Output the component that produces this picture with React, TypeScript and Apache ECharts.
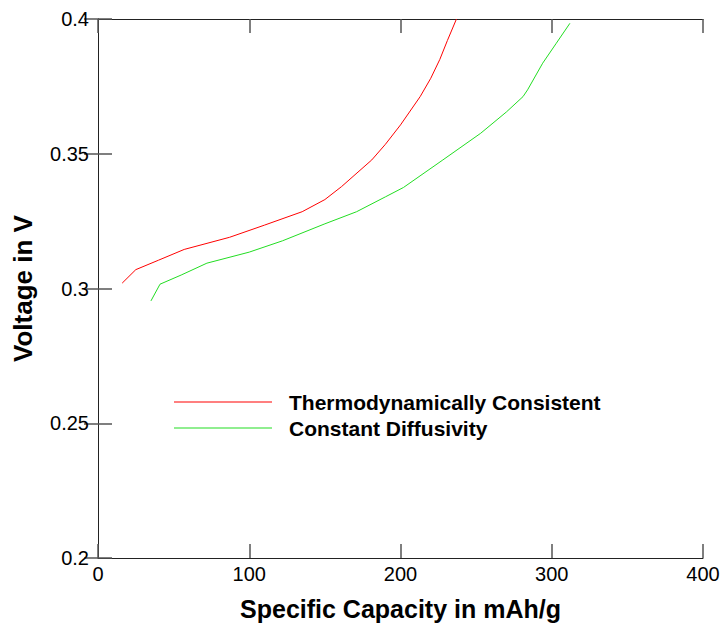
import React, { useEffect, useRef } from "react";
import * as echarts from "echarts";

const thermoData: [number, number][] = [
  [16, 0.302], [25, 0.307], [40, 0.3105], [57, 0.3145], [87, 0.319],
  [110, 0.3235], [135, 0.3285], [150, 0.333], [161, 0.3378], [181, 0.3477],
  [190, 0.3535], [200, 0.3607], [213, 0.3712], [220, 0.378], [226, 0.385],
  [231, 0.392], [237, 0.4],
];
const constDiffData: [number, number][] = [
  [35, 0.2954], [41, 0.3016], [55, 0.305], [72, 0.3094], [100, 0.3135],
  [122, 0.3177], [150, 0.324], [171, 0.3285], [190, 0.334], [202, 0.3375],
  [228, 0.3477], [253, 0.3576], [270, 0.3655], [281, 0.3712], [284, 0.3737],
  [294, 0.3836], [303, 0.391], [312, 0.3984],
];
const seriesNames = ["Thermodynamically Consistent", "Constant Diffusivity"];
const xTitle = "Specific Capacity in mAh/g";
const yTitle = "Voltage in V";

export default function App() {
  const ref = useRef<HTMLDivElement>(null);
  useEffect(() => {
    if (!ref.current) return;
    const chart = echarts.init(ref.current, null, { renderer: "svg" });
    const font = "Liberation Sans, Arial, sans-serif";
    const axisLine = { show: true, lineStyle: { color: "#222", width: 1 } };
    const tick = { show: true, inside: true, length: 14, lineStyle: { color: "#555", width: 1.5 } };
    chart.setOption({
      animation: false,
      backgroundColor: "#fff",
      grid: { left: 98, right: 22, top: 19, bottom: 70, containLabel: false },
      legend: {
        left: 174,
        top: 389,
        padding: 0,
        orient: "vertical",
        icon: "rect",
        itemWidth: 98,
        itemHeight: 1.2,
        itemGap: 0,
        data: seriesNames,
        textStyle: { fontFamily: font, fontSize: 21, fontWeight: "bold", color: "#000", lineHeight: 26, padding: [0, 0, 0, 12] },
      },
      xAxis: [
        {
          type: "value", min: 0, max: 400, interval: 100,
          axisLine, axisTick: tick, splitLine: { show: false },
          axisLabel: { fontFamily: font, fontSize: 20, color: "#000", margin: 6 },
          name: xTitle, nameLocation: "middle", nameGap: 38,
          nameTextStyle: { fontFamily: font, fontSize: 25, fontWeight: "bold", color: "#000" },
        },
        {
          type: "value", position: "top", min: 0, max: 400, interval: 100,
          axisLine, axisTick: tick, splitLine: { show: false }, axisLabel: { show: false },
        },
      ],
      yAxis: [
        {
          type: "value", min: 0.2, max: 0.4, interval: 0.05,
          axisLine, axisTick: tick, splitLine: { show: false },
          axisLabel: { fontFamily: font, fontSize: 20, color: "#000", margin: 9 },
          name: yTitle, nameLocation: "middle", nameGap: 62,
          nameTextStyle: { fontFamily: font, fontSize: 26, fontWeight: "bold", color: "#000" },
        },
        {
          type: "value", position: "right", min: 0.2, max: 0.4, interval: 0.05,
          axisLine, axisTick: tick, splitLine: { show: false }, axisLabel: { show: false },
        },
      ],
      series: [
        {
          name: seriesNames[0], type: "line", data: thermoData, symbol: "none",
          lineStyle: { color: "#ff0000", width: 1 }, itemStyle: { color: "#ff0000" },
        },
        {
          name: seriesNames[1], type: "line", data: constDiffData, symbol: "none",
          lineStyle: { color: "#22dd22", width: 1 }, itemStyle: { color: "#22dd22" },
        },
      ],
    });
    return () => chart.dispose();
  }, []);
  return <div ref={ref} style={{ position: "fixed", left: 0, top: 0, width: 725, height: 628 }} />;
}
